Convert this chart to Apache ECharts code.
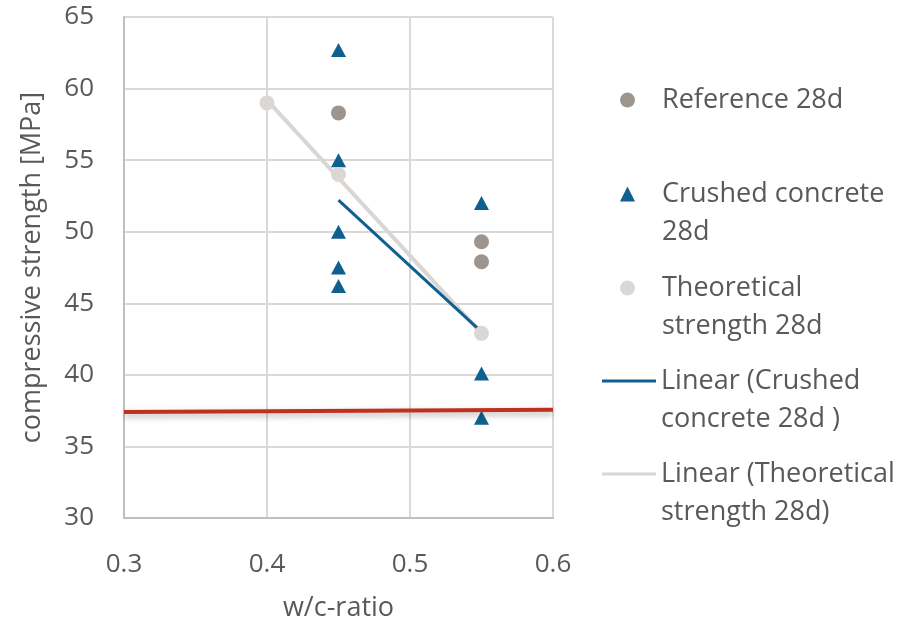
<!DOCTYPE html>
<html>
<head>
<meta charset="utf-8">
<script src="https://cdn.jsdelivr.net/npm/echarts@6/dist/echarts.min.js"></script>
<style>html,body{margin:0;padding:0;background:#fff}#c{width:906px;height:623px}</style>
</head>
<body>
<div id="c"></div>
<script>
// ---- data ----
const xTicks = [0.3, 0.4, 0.5, 0.6];
const yTicks = [30, 35, 40, 45, 50, 55, 60, 65];

const refX = [0.45, 0.55, 0.55];
const refY = [58.3, 49.3, 47.9];

const crushedX = [0.45, 0.45, 0.45, 0.45, 0.45, 0.55, 0.55, 0.55];
const crushedY = [62.7, 55.0, 50.0, 47.5, 46.2, 52.0, 40.1, 37.0];

const theoX = [0.40, 0.45, 0.55];
const theoY = [59.0, 54.0, 42.9];

const trendCrushedX = [0.45, 0.55];
const trendCrushedY = [52.2, 43.0];

const trendTheoX = [0.40, 0.55];
const trendTheoY = [59.2, 42.9];

const redX = [0.3, 0.6];
const redY = [37.4, 37.57];

const names = ['Reference 28d', 'Crushed concrete 28d', 'Theoretical strength 28d',
  'Linear (Crushed concrete 28d )', 'Linear (Theoretical strength 28d)'];
const legendLabels = ['Reference 28d', '\nCrushed concrete\n28d', '\nTheoretical\nstrength 28d',
  '\nLinear (Crushed\nconcrete 28d )', '\nLinear (Theoretical\nstrength 28d)'];

const zip = (a, b) => a.map((v, i) => [v, b[i]]);

const FONT = '"Open Sans", "Noto Sans", sans-serif';
const TXT = '#595959';
const LH = 38;

const legendCenters = [100, 194, 288, 381, 474];
const legendIsLine = [false, false, false, true, true];
const legends = names.map((n, i) => {
  const nLines = legendLabels[i].split('\n').length;
  const line = legendIsLine[i];
  return {
    data: [n],
    left: line ? 602 : 620,
    top: legendCenters[i] - nLines * LH / 2,
    padding: 0,
    itemWidth: line ? 54 : 15,
    itemHeight: line ? 3 : 15,
    icon: line ? 'rect' : undefined,
    selectedMode: false,
    formatter: () => legendLabels[i],
    textStyle: {
      fontFamily: FONT, fontSize: 27, color: TXT, lineHeight: LH,
      padding: line ? 0 : [0, 0, 0, 22]
    }
  };
});

const chart = echarts.init(document.getElementById('c'), null, {renderer: 'canvas'});
chart.setOption({
  animation: false,
  grid: {left: 124, right: 353, top: 17, bottom: 105, containLabel: false, outerBoundsMode: 'none'},
  legend: legends,
  xAxis: {
    type: 'value', min: 0.3, max: 0.6, interval: 0.1,
    name: 'w/c-ratio', nameLocation: 'middle', nameGap: 77,
    nameTextStyle: {fontFamily: FONT, fontSize: 27, color: TXT},
    axisLine: {show: true, lineStyle: {color: '#BFBFBF', width: 2}},
    axisTick: {show: false},
    axisLabel: {fontFamily: FONT, fontSize: 26, color: TXT, margin: 34,
      formatter: v => String(Math.round(v * 10) / 10)},
    splitLine: {show: true, lineStyle: {color: '#D9D9D9', width: 2}}
  },
  yAxis: {
    type: 'value', min: 30, max: 65, interval: 5,
    name: 'compressive strength [MPa]', nameLocation: 'middle', nameGap: 78,
    nameTextStyle: {fontFamily: FONT, fontSize: 27, color: TXT},
    axisLine: {show: true, lineStyle: {color: '#BFBFBF', width: 2}},
    axisTick: {show: false},
    axisLabel: {fontFamily: FONT, fontSize: 26, color: TXT, margin: 30},
    splitLine: {show: true, lineStyle: {color: '#D9D9D9', width: 2}}
  },
  series: [
    {
      name: names[4], type: 'line', data: zip(trendTheoX, trendTheoY),
      symbol: 'none', lineStyle: {color: '#D9D6D3', width: 4}, itemStyle: {color: '#D9D6D3'}, z: 2
    },
    {
      name: names[3], type: 'line', data: zip(trendCrushedX, trendCrushedY),
      symbol: 'none', lineStyle: {color: '#0F5F90', width: 3}, itemStyle: {color: '#0F5F90'}, z: 3
    },
    {
      name: names[0], type: 'scatter', data: zip(refX, refY),
      symbol: 'circle', symbolSize: 15, itemStyle: {color: '#9D958D', opacity: 1}, z: 4
    },
    {
      name: names[1], type: 'scatter', data: zip(crushedX, crushedY),
      symbol: 'triangle', symbolSize: [15, 14], itemStyle: {color: '#0F5F90', opacity: 1}, z: 4
    },
    {
      name: names[2], type: 'scatter', data: zip(theoX, theoY),
      symbol: 'circle', symbolSize: 15, itemStyle: {color: '#DAD7D4', opacity: 1}, z: 4
    },
    {
      name: 'red', type: 'line', data: zip(redX, redY), symbol: 'none', z: 6,
      lineStyle: {color: '#C0301F', width: 4, shadowColor: 'rgba(0,0,0,0.3)', shadowBlur: 6, shadowOffsetY: 3}
    }
  ]
});
</script>
</body>
</html>
